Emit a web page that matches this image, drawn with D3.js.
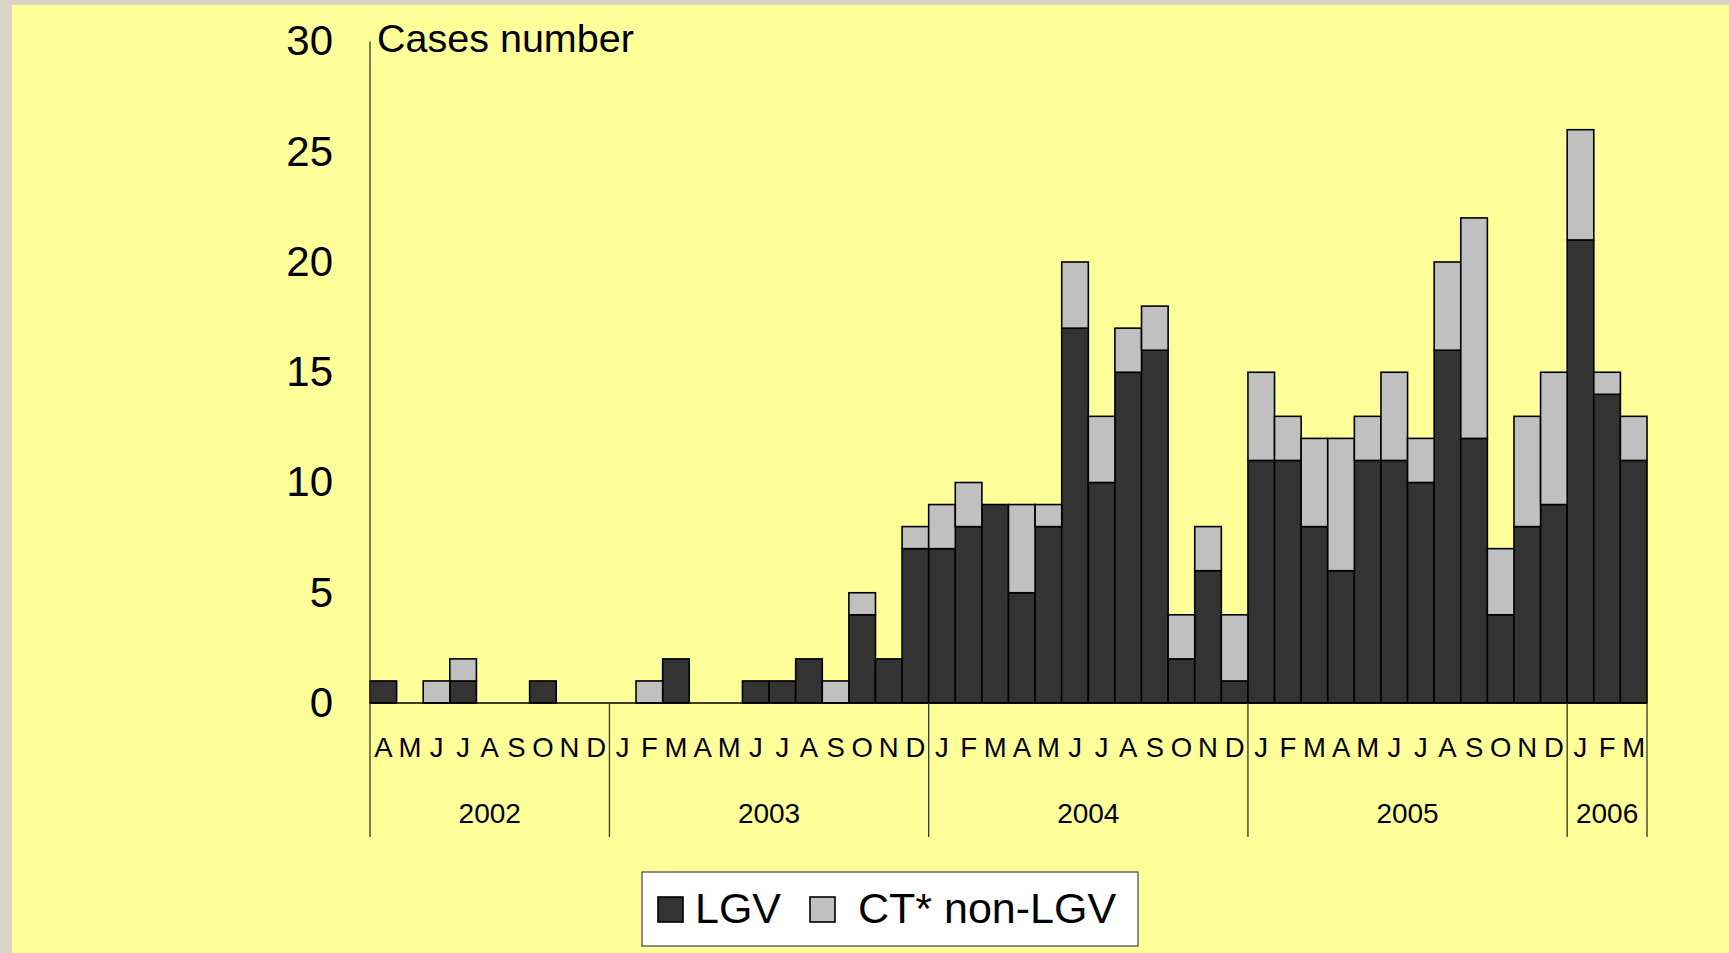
<!DOCTYPE html>
<html>
<head>
<meta charset="utf-8">
<script src="https://cdn.jsdelivr.net/npm/d3@7"></script>
<style>
  body { margin: 0; overflow: hidden; background: #d8d4c6; }
  text { font-family: "Liberation Sans", Arial, sans-serif; fill: #000; }
</style>
</head>
<body>
<svg id="chart" width="1729" height="953"></svg>
<script>
// months Apr 2002 .. Mar 2006
var monthLabels = ["A","M","J","J","A","S","O","N","D",
  "J","F","M","A","M","J","J","A","S","O","N","D",
  "J","F","M","A","M","J","J","A","S","O","N","D",
  "J","F","M","A","M","J","J","A","S","O","N","D",
  "J","F","M"];
var lgv = [1,0,0,1,0,0,1,0,0,
  0,0,2,0,0,1,1,2,0,4,2,7,
  7,8,9,5,8,17,10,15,16,2,6,1,
  11,11,8,6,11,11,10,16,12,4,8,9,
  21,14,11];
var ctNonLgv = [0,0,1,1,0,0,0,0,0,
  0,1,0,0,0,0,0,0,1,1,0,1,
  2,2,0,4,1,3,3,2,2,2,2,3,
  4,2,4,6,2,4,2,4,10,3,5,6,
  5,1,2];
var years = ["2002","2003","2004","2005","2006"];
var monthsPerYear = [9, 12, 12, 12, 3];
var yTicks = [0, 5, 10, 15, 20, 25, 30];
var seriesNames = ["LGV", "CT* non-LGV"];
var colors = ["#333333", "#c0c0c0"];

var svg = d3.select("#chart");

// yellow slide background
svg.append("rect").attr("x", 12).attr("y", 5)
   .attr("width", 1729 - 12).attr("height", 953 - 5)
   .attr("fill", "#ffff99");

var x = d3.scaleBand().domain(d3.range(lgv.length)).range([370, 1647]).padding(0);
var y = d3.scaleLinear().domain([0, 30]).range([703, 41.5]);

// stack the two series
var rows = lgv.map(function (v, i) { return {i: i, lgv: v, ct: ctNonLgv[i]}; });
var stack = d3.stack().keys(["lgv", "ct"]);
var layers = stack(rows);

var g = svg.append("g");
layers.forEach(function (layer, k) {
  g.selectAll(".bar" + k)
    .data(layer.filter(function (d) { return d[1] > d[0]; }))
    .enter().append("rect")
    .attr("x", function (d) { return x(d.data.i); })
    .attr("width", x.bandwidth())
    .attr("y", function (d) { return y(d[1]); })
    .attr("height", function (d) { return y(d[0]) - y(d[1]); })
    .attr("fill", colors[k])
    .attr("stroke", "#000")
    .attr("stroke-width", 1.6);
});

// y axis labels
var yAxis = d3.axisLeft(y).tickValues(yTicks).tickSize(0).tickPadding(37);
var ya = svg.append("g").attr("transform", "translate(370,0)").call(yAxis);
ya.select(".domain").remove();
ya.selectAll("text").attr("font-size", 42)
  .style("font-family", '"Liberation Sans", Arial, sans-serif');

// axis lines
var yBottom = 837;
svg.append("line").attr("x1", 370).attr("x2", 370).attr("y1", y(30)).attr("y2", yBottom)
   .attr("stroke", "#333").attr("stroke-width", 1.3);
svg.append("line").attr("x1", 370).attr("x2", 1647).attr("y1", y(0)).attr("y2", y(0))
   .attr("stroke", "#000").attr("stroke-width", 1.3);

svg.append("text").attr("x", 377).attr("y", 52).attr("font-size", 39.5).text("Cases number");

// month labels
svg.selectAll(".month").data(monthLabels).enter().append("text")
  .attr("x", function (d, i) { return x(i) + x.bandwidth() / 2; })
  .attr("y", 757)
  .attr("text-anchor", "middle")
  .attr("font-size", 27.5)
  .text(function (d) { return d; });

// year blocks
var start = 0;
years.forEach(function (yr, k) {
  var x0 = x(start), x1 = x(start + monthsPerYear[k] - 1) + x.bandwidth();
  svg.append("line").attr("x1", x1).attr("x2", x1).attr("y1", y(0)).attr("y2", yBottom)
     .attr("stroke", "#333").attr("stroke-width", 1.3);
  svg.append("text").attr("x", (x0 + x1) / 2).attr("y", 823)
     .attr("text-anchor", "middle").attr("font-size", 28).text(yr);
  start += monthsPerYear[k];
});

// legend
var lg = svg.append("g");
lg.append("rect").attr("x", 642).attr("y", 872).attr("width", 496).attr("height", 74)
  .attr("fill", "#fff").attr("stroke", "#444").attr("stroke-width", 1.2);
var legendPos = [{sx: 658, tx: 695}, {sx: 810, tx: 858}];
seriesNames.forEach(function (name, k) {
  lg.append("rect").attr("x", legendPos[k].sx).attr("y", 897).attr("width", 25).attr("height", 25)
    .attr("fill", colors[k]).attr("stroke", "#000").attr("stroke-width", 1.6);
  lg.append("text").attr("x", legendPos[k].tx).attr("y", 923).attr("font-size", 43).text(name);
});
</script>
</body>
</html>
